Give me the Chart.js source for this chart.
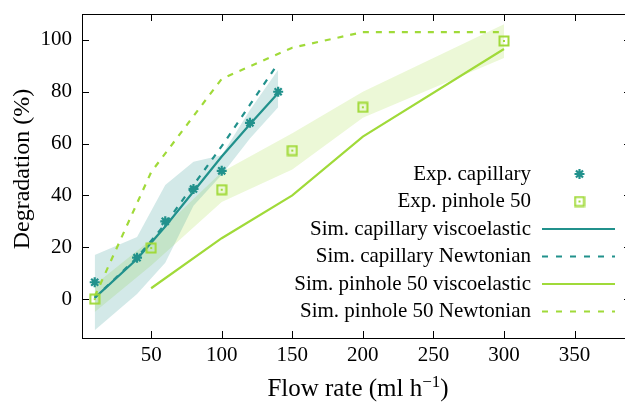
<!DOCTYPE html>
<html>
<head>
<meta charset="utf-8">
<script src="https://cdn.jsdelivr.net/npm/chart.js@4"></script>
<style>
  html, body { margin: 0; padding: 0; background: #fff; overflow: hidden; }
  canvas { display: block; }
</style>
</head>
<body>
<canvas id="chart" width="640" height="402"></canvas>
<script>
// capillary series (flow rate in ml/h)
const capX = [10, 40, 60, 80, 100, 120, 140];
const capExp = [6.5, 16, 30, 42.5, 49.5, 68, 80];
const capBandLow = [-12, 2, 14, 36, 48, 62, 74];
const capBandHigh = [17, 24, 44, 53, 55.5, 73, 88.5];
const capSimVisco = [0.5, 15.5, 28, 41.5, 55, 67.5, 79.5];
const capSimNewt = [0.5, 16, 29, 44, 59, 75, 91];

// pinhole 50 series
const pinX = [10, 50, 100, 150, 200, 300];
const pinExp = [0, 19.7, 42.2, 57.3, 74, 99.6];
const pinBandLow = [-5, 13, 37.5, 50, 70, 93];
const pinBandHigh = [5.5, 23, 49, 64, 80, 106];
const pinSimViscoX = [50, 100, 150, 200, 300];
const pinSimVisco = [4.2, 23.5, 40, 62.7, 96.5];
const pinSimNewt = [1, 49, 85, 97, 103, 103];

const xTicks = [50, 100, 150, 200, 250, 300, 350];
const yTicks = [0, 20, 40, 60, 80, 100];

const TEAL = '#21918c';
const GREEN = '#a0da39';
const SERIF = '"Liberation Serif", "DejaVu Serif", serif';

const pts = (xs, ys) => xs.map((x, i) => ({ x: x, y: ys[i] }));

// open square with a dot in the middle
function squareDot(color) {
    const c = document.createElement('canvas');
    c.width = 12; c.height = 12;
    const g = c.getContext('2d');
    g.strokeStyle = color;
    g.lineWidth = 2;
    g.strokeRect(1.5, 1.5, 9, 9);
    g.fillStyle = color;
    g.fillRect(5, 5, 2, 2);
    return c;
}
const pinMarker = squareDot(GREEN);

const datasets = [
    { label: 'Exp. capillary', data: pts(capX, capExp), showLine: false, pointStyle: 'star',
      pointRadius: 5, borderColor: TEAL, backgroundColor: TEAL, pointBorderWidth: 2.2, legend: true },
    { label: 'Exp. pinhole 50', data: pts(pinX, pinExp), showLine: false, pointStyle: pinMarker,
      pointRadius: 6, borderColor: GREEN, backgroundColor: GREEN, legend: true },
    { label: 'Sim. capillary viscoelastic', data: pts(capX, capSimVisco), borderColor: TEAL,
      borderWidth: 2.2, pointRadius: 0, legend: true },
    { label: 'Sim. capillary Newtonian', data: pts(capX, capSimNewt), borderColor: TEAL,
      borderWidth: 2.2, borderDash: [6, 7], pointRadius: 0, legend: true },
    { label: 'Sim. pinhole 50 viscoelastic', data: pts(pinSimViscoX, pinSimVisco), borderColor: GREEN,
      borderWidth: 2.2, pointRadius: 0, legend: true },
    { label: 'Sim. pinhole 50 Newtonian', data: pts(pinX, pinSimNewt), borderColor: GREEN,
      borderWidth: 2.2, borderDash: [6, 7], pointRadius: 0, legend: true },
    // shaded bands
    { label: 'cap low', data: pts(capX, capBandLow), borderWidth: 0, pointRadius: 0, fill: false },
    { label: 'cap high', data: pts(capX, capBandHigh), borderWidth: 0, pointRadius: 0,
      fill: '-1', backgroundColor: 'rgba(33,145,140,0.2)' },
    { label: 'pin low', data: pts(pinX, pinBandLow), borderWidth: 0, pointRadius: 0, fill: false },
    { label: 'pin high', data: pts(pinX, pinBandHigh), borderWidth: 0, pointRadius: 0,
      fill: '-1', backgroundColor: 'rgba(160,218,57,0.2)' }
];

// frame with inward ticks on all four sides, plus axis titles
const framePlugin = {
    id: 'frame',
    afterDraw(chart) {
        const { ctx, chartArea: a, scales: { x, y } } = chart;
        ctx.save();
        ctx.strokeStyle = '#000';
        ctx.lineWidth = 1;
        ctx.strokeRect(Math.round(a.left) + 0.5, Math.round(a.top) + 0.5,
            Math.round(a.right - a.left), Math.round(a.bottom - a.top));
        ctx.beginPath();
        xTicks.forEach(v => {
            const px = Math.round(x.getPixelForValue(v)) + 0.5;
            ctx.moveTo(px, a.bottom); ctx.lineTo(px, a.bottom - 7);
            ctx.moveTo(px, a.top); ctx.lineTo(px, a.top + 7);
        });
        yTicks.forEach(v => {
            const py = Math.round(y.getPixelForValue(v)) + 0.5;
            ctx.moveTo(a.left, py); ctx.lineTo(a.left + 7, py);
            ctx.moveTo(a.right, py); ctx.lineTo(a.right - 7, py);
        });
        ctx.stroke();

        ctx.fillStyle = '#000';
        // y title
        ctx.save();
        ctx.translate(23, 169);
        ctx.rotate(-Math.PI / 2);
        ctx.font = '24px ' + SERIF;
        ctx.textAlign = 'center';
        ctx.textBaseline = 'middle';
        ctx.fillText('Degradation (%)', 0, 0);
        ctx.restore();

        // x title with superscript
        const main = 'Flow rate (ml h', sup = '\u22121', end = ')';
        ctx.font = '25px ' + SERIF;
        const w1 = ctx.measureText(main).width, w3 = ctx.measureText(end).width;
        ctx.font = '17px ' + SERIF;
        const w2 = ctx.measureText(sup).width;
        const sx = 358 - (w1 + w2 + w3) / 2;
        const base = 396;
        ctx.textAlign = 'left';
        ctx.textBaseline = 'alphabetic';
        ctx.font = '25px ' + SERIF;
        ctx.fillText(main, sx, base);
        ctx.font = '17px ' + SERIF;
        ctx.fillText(sup, sx + w1, base - 9);
        ctx.font = '25px ' + SERIF;
        ctx.fillText(end, sx + w1 + w2, base);
        ctx.restore();
    }
};

// gnuplot-like key: text right aligned, sample on the right
const keyPlugin = {
    id: 'key',
    afterDraw(chart) {
        const ctx = chart.ctx;
        const textRight = 531, lineL = 542, lineR = 615, rowTop = 174, rowStep = 27.5;
        ctx.save();
        ctx.font = '21px ' + SERIF;
        ctx.textAlign = 'right';
        ctx.textBaseline = 'middle';
        let row = 0;
        chart.data.datasets.forEach(ds => {
            if (!ds.legend) return;
            const yy = rowTop + row * rowStep;
            ctx.fillStyle = '#000';
            ctx.fillText(ds.label, textRight, yy);
            ctx.strokeStyle = ds.borderColor;
            ctx.fillStyle = ds.backgroundColor || ds.borderColor;
            if (ds.showLine === false) {
                ctx.lineWidth = ds.pointBorderWidth || 1;
                Chart.helpers.drawPoint(ctx, {
                    pointStyle: ds.pointStyle, rotation: 0, radius: ds.pointRadius,
                    borderWidth: ds.pointBorderWidth || 1
                }, (lineL + lineR) / 2 + 1, yy);
            } else {
                ctx.lineWidth = ds.borderWidth;
                ctx.setLineDash(ds.borderDash ? [6, 8] : []);
                ctx.beginPath();
                ctx.moveTo(lineL, yy);
                ctx.lineTo(lineR, yy);
                ctx.stroke();
                ctx.setLineDash([]);
            }
            row++;
        });
        ctx.restore();
    }
};

new Chart(document.getElementById('chart'), {
    type: 'line',
    data: { datasets: datasets },
    options: {
        responsive: false,
        animation: false,
        layout: { padding: { left: 0, right: 9, top: 14, bottom: 0 } },
        elements: { line: { tension: 0 } },
        plugins: { legend: { display: false }, tooltip: { enabled: false } },
        scales: {
            x: {
                type: 'linear', min: 1, max: 390,
                afterBuildTicks: s => { s.ticks = xTicks.map(v => ({ value: v })); },
                afterFit: s => { s.height = 64; s.paddingLeft = 0; s.paddingRight = 0; },
                grid: { display: false, drawTicks: false },
                border: { display: false },
                ticks: { color: '#000', padding: 5, maxRotation: 0, font: { family: SERIF, size: 21 } }
            },
            y: {
                type: 'linear', min: -15, max: 110,
                afterBuildTicks: s => { s.ticks = yTicks.map(v => ({ value: v })); },
                afterFit: s => { s.width = 82; s.paddingTop = 0; s.paddingBottom = 0; },
                grid: { display: false, drawTicks: false },
                border: { display: false },
                ticks: { color: '#000', padding: 10, font: { family: SERIF, size: 21 } }
            }
        }
    },
    plugins: [framePlugin, keyPlugin]
});
</script>
</body>
</html>
